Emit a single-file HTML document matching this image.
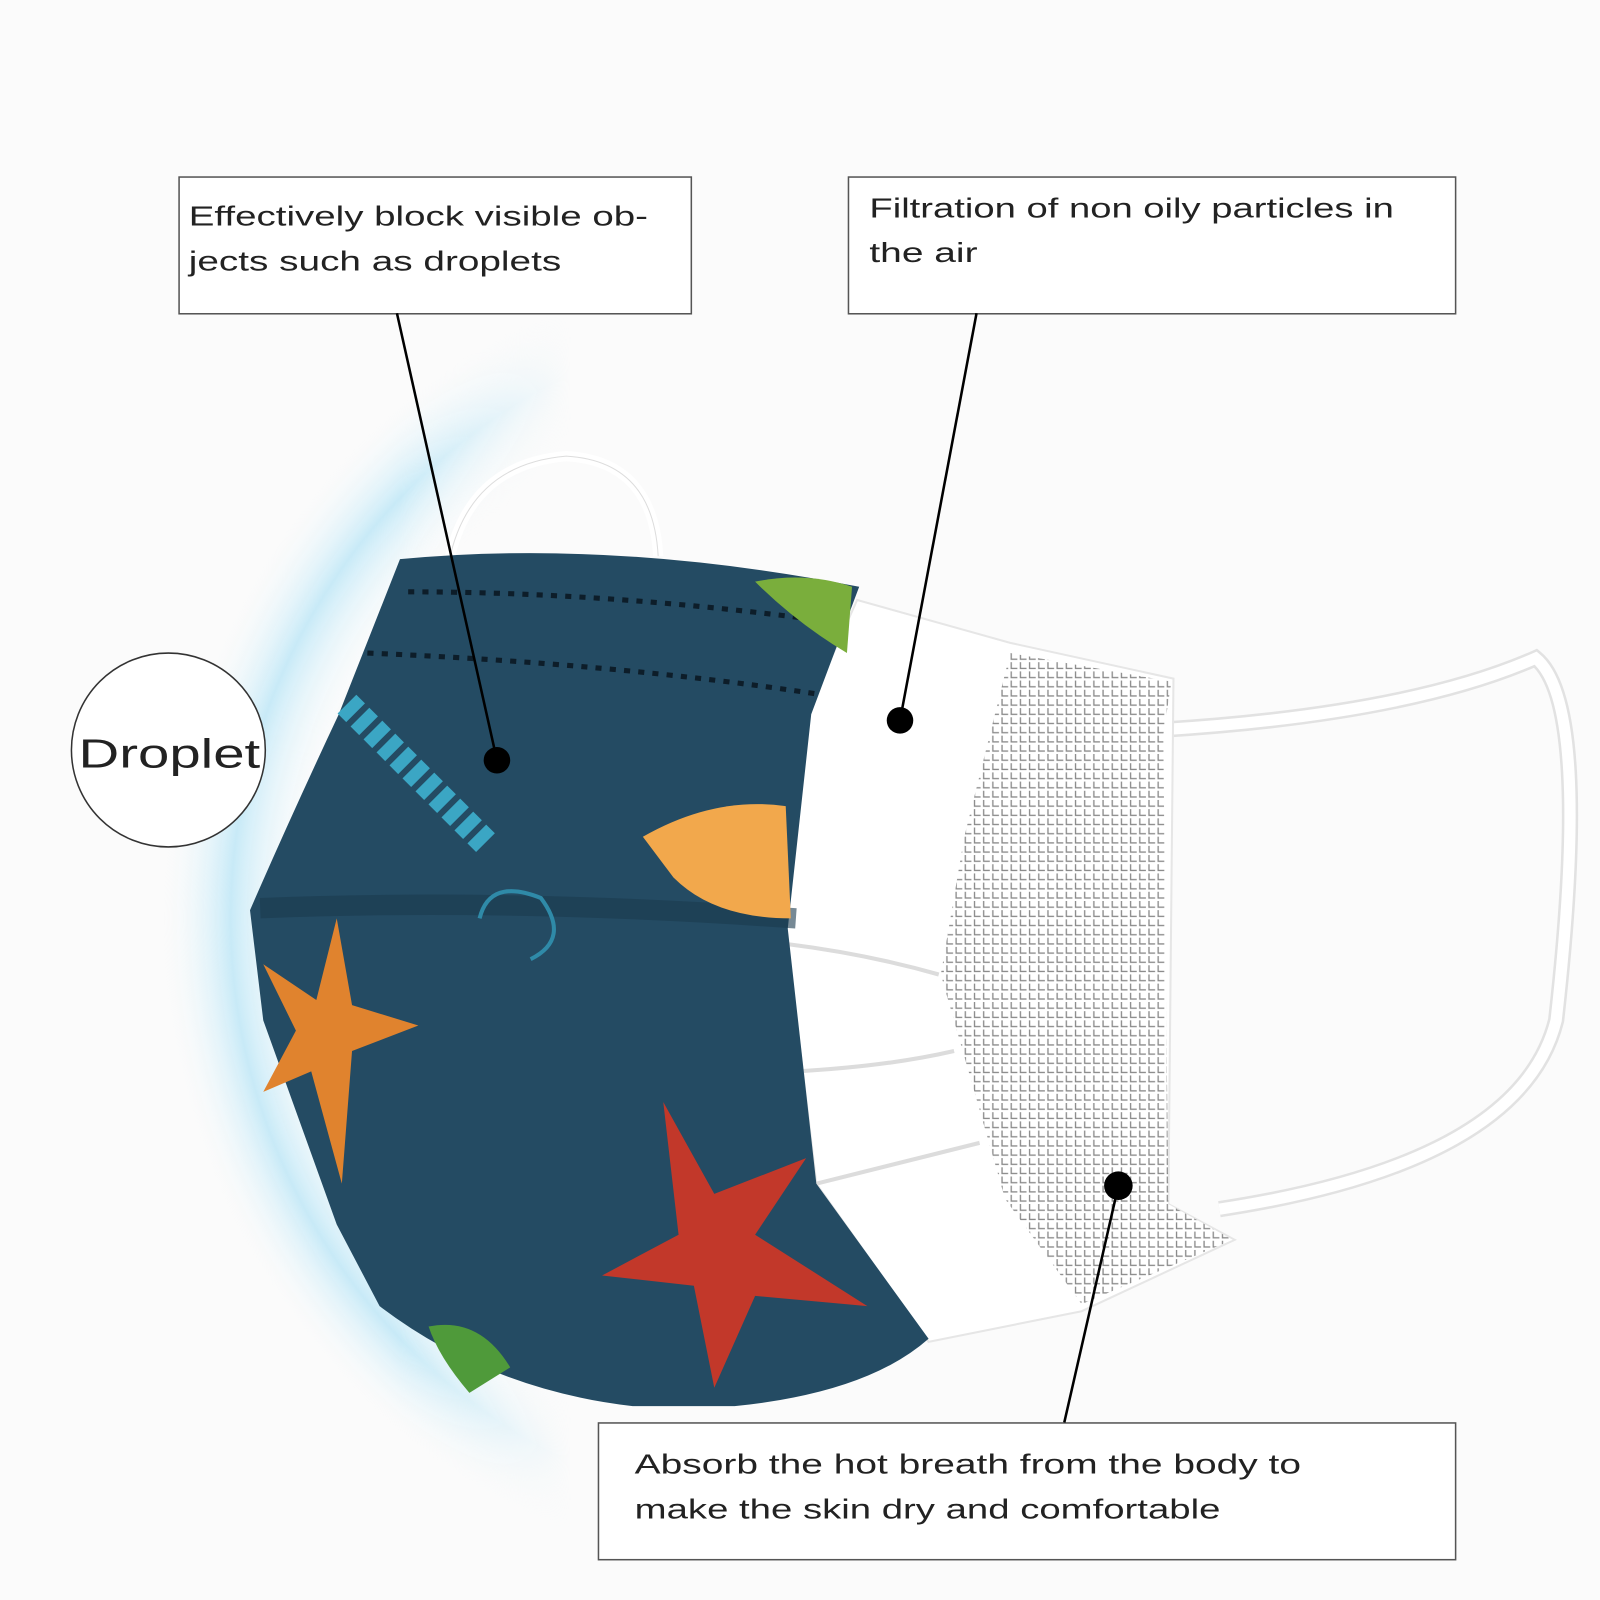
<!DOCTYPE html>
<html><head><meta charset="utf-8"><style>
html,body{margin:0;padding:0;background:#fbfbfb;}
svg{display:block}
text{font-family:"Liberation Sans",sans-serif;fill:#222;}
</style></head><body>
<svg width="1600" height="1600" viewBox="0 0 1568 1568" xmlns="http://www.w3.org/2000/svg">
<defs>
<radialGradient id="halo" cx="820" cy="900" r="660" gradientUnits="userSpaceOnUse">
<stop offset="0.78" stop-color="#ffffff" stop-opacity="0"/>
<stop offset="0.9" stop-color="#c8eaf7"/>
<stop offset="1" stop-color="#f6fbfd" stop-opacity="0"/>
</radialGradient>
<linearGradient id="fadeX" x1="0" y1="0" x2="1" y2="0">
<stop offset="0" stop-color="#fff"/><stop offset="0.7" stop-color="#fff"/><stop offset="1" stop-color="#000"/>
</linearGradient>
<mask id="leftOnly"><rect x="0" y="0" width="560" height="1568" fill="url(#fadeX)"/></mask>
<pattern id="mesh" width="9" height="9" patternUnits="userSpaceOnUse">
<rect width="9" height="9" fill="#fff"/>
<path d="M1,1 L1,7 L7,7" fill="none" stroke="#8a8a8a" stroke-width="1.3"/>
</pattern>
</defs>
<rect width="1568" height="1568" fill="#fbfbfb"/>
<circle cx="820" cy="900" r="660" fill="url(#halo)" mask="url(#leftOnly)"/>
<!-- top loop -->
<path d="M440,550 Q460,455 555,447 Q640,452 645,545" fill="none" stroke="#fff" stroke-width="10"/>
<path d="M440,550 Q460,455 555,447 Q640,452 645,545" fill="none" stroke="#ddd" stroke-width="1"/>
<!-- right loop -->
<path d="M1140,715 Q1380,700 1505,645 Q1560,690 1525,1000 Q1490,1140 1195,1185" fill="none" stroke="#e2e2e2" stroke-width="16"/>
<path d="M1140,715 Q1380,700 1505,645 Q1560,690 1525,1000 Q1490,1140 1195,1185" fill="none" stroke="#fff" stroke-width="11"/>
<!-- white body -->
<path d="M840,588 L990,630 L1150,665 L1145,1180 L1210,1215 L1060,1285 L910,1315 L800,1160 L770,910 L790,700 Z" fill="#fff" stroke="#e6e6e6" stroke-width="2"/>
<path d="M990,640 L1148,668 L1140,720 L1145,1180 L1208,1215 L1060,1278 L985,1175 L922,955 L945,820 Z" fill="url(#mesh)"/>
<path d="M770,925 Q850,935 920,955 M780,1050 Q870,1045 935,1030 M800,1160 Q880,1140 960,1120" fill="none" stroke="#dcdcdc" stroke-width="4"/>
<!-- blue mask -->
<path d="M392,548 Q600,528 842,575 L795,700 L772,910 L800,1160 L910,1312 Q850,1365 720,1378 L620,1378 Q480,1362 372,1280 L330,1200 L258,1000 L245,892 Q285,800 332,700 Z" fill="#244b63"/>
<path d="M255,890 Q500,880 780,900" stroke="#1b3a4f" stroke-width="20" fill="none" opacity="0.6"/>
<path d="M470,900 Q480,860 530,880 Q560,920 520,940" stroke="#2f8aa8" stroke-width="4" fill="none"/>
<path d="M400,580 Q600,580 820,610 M360,640 Q600,650 800,680" stroke="#0d1d29" stroke-width="5" stroke-dasharray="6 8" fill="none"/>
<path d="M630,820 Q700,780 770,790 L775,900 Q700,900 660,860 Z" fill="#f2a84c"/>
<path d="M340,690 L480,830" stroke="#3ba6c4" stroke-width="26" stroke-dasharray="12 6" fill="none"/>
<path d="M740,570 Q790,560 835,575 L830,640 Q780,610 740,570Z" fill="#7aae3c"/>
<path d="M420,1300 Q470,1290 500,1340 L460,1365 Q430,1330 420,1300Z" fill="#4f9a3a"/>
<polygon points="330,900 345,985 410,1005 345,1030 335,1160 305,1050 258,1070 290,1010 258,945 310,980" fill="#e0832e"/>
<polygon points="650,1080 700,1170 790,1135 740,1210 850,1280 740,1270 700,1360 680,1260 590,1250 665,1210" fill="#c2382a"/>
<!-- boxes -->
<rect x="175.5" y="173.5" width="502" height="134" fill="#fff" stroke="#555" stroke-width="1.5"/>
<text x="185" y="221" font-size="27" textLength="450" lengthAdjust="spacingAndGlyphs">Effectively block visible ob-</text>
<text x="185" y="265" font-size="27" textLength="365" lengthAdjust="spacingAndGlyphs">jects such as droplets</text>
<rect x="831.5" y="173.5" width="595" height="134" fill="#fff" stroke="#555" stroke-width="1.5"/>
<text x="852" y="213" font-size="27" textLength="514" lengthAdjust="spacingAndGlyphs">Filtration of non oily particles in</text>
<text x="852" y="257" font-size="27" textLength="106" lengthAdjust="spacingAndGlyphs">the air</text>
<rect x="586.5" y="1394.5" width="840" height="134" fill="#fff" stroke="#555" stroke-width="1.5"/>
<text x="622" y="1444" font-size="27" textLength="653" lengthAdjust="spacingAndGlyphs">Absorb the hot breath from the body to</text>
<text x="622" y="1488" font-size="27" textLength="574" lengthAdjust="spacingAndGlyphs">make the skin dry and comfortable</text>
<circle cx="165" cy="735" r="95" fill="#fff" stroke="#333" stroke-width="1.5"/>
<text x="77" y="752" font-size="40" textLength="178" lengthAdjust="spacingAndGlyphs">Droplet</text>
<!-- connectors -->
<line x1="389" y1="307" x2="487" y2="745" stroke="#000" stroke-width="2.5"/>
<circle cx="487" cy="745" r="13" fill="#000"/>
<line x1="957" y1="307" x2="882" y2="706" stroke="#000" stroke-width="2.5"/>
<circle cx="882" cy="706" r="13" fill="#000"/>
<line x1="1043" y1="1394" x2="1096" y2="1162" stroke="#000" stroke-width="2.5"/>
<circle cx="1096" cy="1162" r="14" fill="#000"/>
</svg>
</body></html>
